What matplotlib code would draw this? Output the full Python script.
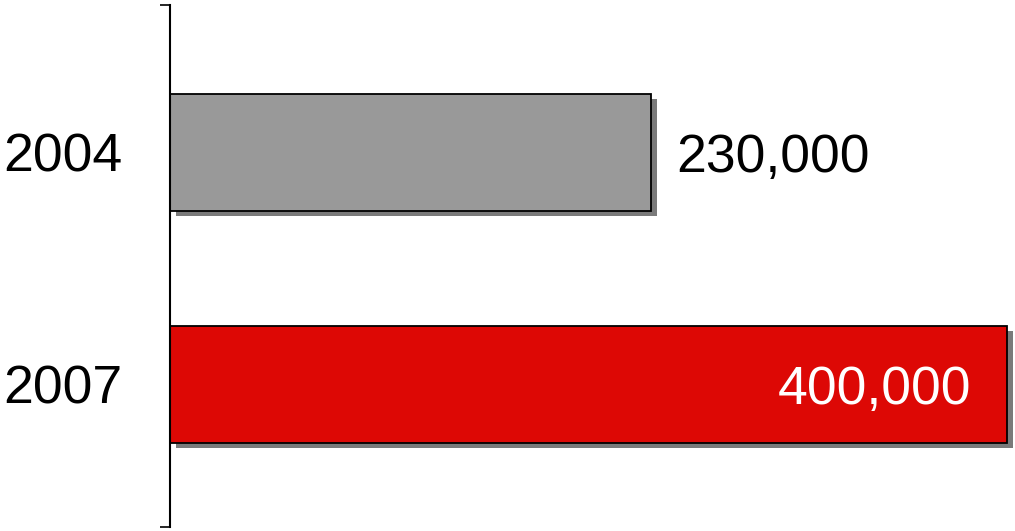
import matplotlib.pyplot as plt

years = ['2007', '2004']
values = [400000, 230000]
labels = ['400,000', '230,000']
colors = ['#dd0805', '#999999']

plt.rcParams['font.family'] = ['Liberation Sans', 'DejaVu Sans']

fig = plt.figure(figsize=(10.15, 5.31), dpi=100)
ax = fig.add_axes([170 / 1015, 1 - 527 / 531, 837 / 1015, 522 / 531])

pos = [0, 1]
h = 117 / 232
px = 400000 / 837  # one pixel in data units along x
# shadows
dx = 6 * px
dy = 5 / 232
shadows = ax.barh([p - dy for p in pos], values, height=h, left=dx, color='#7a7a7a', zorder=1)
for s in shadows:
    s.set_clip_on(False)
bars = ax.barh(pos, values, height=h, color=colors, edgecolor='black', linewidth=1.3, zorder=2)
for b in bars:
    b.set_clip_on(False)

ax.set_xlim(0, 400000)
ax.set_ylim(-142.5 / 232, 1 + 147.5 / 232)

fs = 38.5
ty = -5 / 232
# value labels
ax.text(values[1] + 25 * px, pos[1] + ty, labels[1], ha='left', va='center',
        fontsize=fs, color='black')
ax.text(values[0] - 36 * px, pos[0] + ty, labels[0], ha='right', va='center',
        fontsize=fs, color='white')

# category labels
for p, y in zip(pos, years):
    ax.text(-48 * px, p + ty, y, ha='right', va='center', fontsize=fs)

for s in ['top', 'right', 'bottom']:
    ax.spines[s].set_visible(False)
ax.spines['left'].set_linewidth(1.5)
ax.set_xticks([])
ax.set_yticks(ax.get_ylim())
ax.set_yticklabels([])
ax.tick_params(axis='y', length=7, width=1.2)

fig.savefig('out.png', dpi=100)
